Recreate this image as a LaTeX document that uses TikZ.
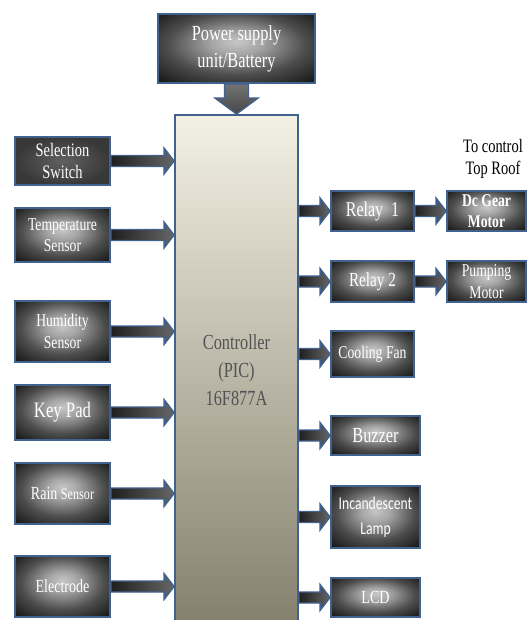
\documentclass[tikz,border=0pt]{standalone}
\usepackage{fontspec}
\setmainfont{Liberation Serif}[FakeStretch=0.76]
\newfontfamily\calfont{Carlito}[FakeStretch=0.76]
\usetikzlibrary{calc}
\definecolor{bord}{HTML}{41618F}
\definecolor{ctop}{HTML}{F3F1E4}
\definecolor{cbot}{HTML}{85806E}
\pgfdeclareradialshading{glow}{\pgfpoint{0bp}{5bp}}{%
  color(0bp)=(black!22); color(8bp)=(black!35); color(22bp)=(black!70);
  color(36bp)=(black!92); color(50bp)=(black!96)}
\newcommand\harrow[2]{%
  \path[flow] let \p1=#1, \p2=#2 in
    (\x1,\y1+5.5pt) -- (\x2-10pt,\y1+5.5pt) -- (\x2-10pt,\y1+13pt) -- (\x2,\y1)
    -- (\x2-10pt,\y1-13pt) -- (\x2-10pt,\y1-5.5pt) -- (\x1,\y1-5.5pt) -- cycle;}
\newcommand\varrow[2]{%
  \path[vflow] let \p1=#1, \p2=#2 in
    (\x1-12pt,\y1) -- (\x1-12pt,\y2+16pt) -- (\x1-21.5pt,\y2+16pt) -- (\x1,\y2)
    -- (\x1+21.5pt,\y2+16pt) -- (\x1+12pt,\y2+16pt) -- (\x1+12pt,\y1) -- cycle;}
\begin{document}
\begin{tikzpicture}[x=1pt,y=-1pt,
  box/.style={draw=bord, line width=1.8pt, shade, shading=glow,
    text=white!92, align=center, inner sep=0pt},
  flow/.style={draw=bord, line width=1.3pt, left color=black!88, right color=black!60},
  vflow/.style={draw=bord, line width=1.3pt, top color=black!55, bottom color=black!72},
  fs/.style 2 args={font=\fontsize{#1}{#2}\selectfont}]
\useasboundingbox (0,0) rectangle (527,620);
% controller
\node[draw=bord, line width=1.8pt, top color=ctop, bottom color=cbot, minimum width=123pt,
  minimum height=510pt, text=black!68, align=center, inner sep=0pt,
  fs={21.5}{28.3}] (ctrl) at (236.5,370) {Controller\\(PIC)\\16F877A};
% power
\node[box, minimum width=157pt, minimum height=69pt, fs={21.5}{27}]
  (pow) at (236.5,48.5) {Power supply\\unit/Battery};
% inputs
\node[box, inner color=black!62, outer color=black!78, minimum width=95pt, minimum height=48pt, fs={19}{22.5}]
  (sel) at (62.5,161) {Selection\\Switch};
\node[box, minimum width=95pt, minimum height=54pt, fs={18}{21}] (temp) at (62.5,235) {Temperature\\Sensor};
\node[box, minimum width=95pt, minimum height=61pt, fs={18}{21.5}] (hum) at (62.5,331.5) {Humidity\\Sensor};
\node[box, minimum width=95pt, minimum height=55pt, fs={22}{24}] (key) at (62.5,412.5) {Key Pad};
\node[box, minimum width=95pt, minimum height=61pt, fs={18.5}{22}] (rain) at (62.5,493.5)
  {Rain {\fontsize{16}{22}\selectfont Sensor}};
\node[box, minimum width=95pt, minimum height=61pt, fs={18.5}{22}] (elec) at (62.5,586.5) {Electrode};
% outputs
\node[box, minimum width=83pt, minimum height=40pt, fs={21}{24}] (r1) at (372.5,211) {Relay\ \ 1};
\node[box, minimum width=83pt, minimum height=41pt, fs={20}{24}] (r2) at (372.5,281.5) {Relay 2};
\node[box, minimum width=79pt, minimum height=40pt, font=\fontsize{18}{21}\selectfont\bfseries]
  (dc) at (486.5,211) {Dc Gear\\Motor};
\node[box, minimum width=79pt, minimum height=41pt, fs={18}{22.5}]
  (pump) at (486.5,281.5) {Pumping\\Motor};
\node[box, minimum width=83pt, minimum height=46pt, fs={18}{22}] (cool) at (372.5,354) {Cooling Fan};
\node[box, minimum width=89pt, minimum height=39pt, fs={21.5}{24}] (buzz) at (375.5,435.5) {Buzzer};
\node[box, minimum width=89pt, minimum height=62pt, font=\calfont\fontsize{18}{25}\selectfont]
  (lamp) at (375.5,517) {Incandescent\\Lamp};
\node[box, minimum width=89pt, minimum height=39pt, fs={18.5}{22}, text=white!85] (lcd) at (375.5,597.5) {LCD};
\node[align=center, inner sep=0pt, fs={19}{22.3}] (note) at (493,159) {To control\\Top Roof};
% connectors
\varrow{(pow.south)}{(ctrl.north)}
\foreach \nm in {sel,temp,hum,key,rain,elec}{\harrow{(\nm.east)}{(\nm.east -| ctrl.west)}}
\foreach \nm in {r1,r2,cool,buzz,lamp,lcd}{\harrow{(\nm.west -| ctrl.east)}{(\nm.west)}}
\harrow{(r1.east)}{(dc.west)}
\harrow{(r2.east)}{(pump.west)}
\end{tikzpicture}
\end{document}
